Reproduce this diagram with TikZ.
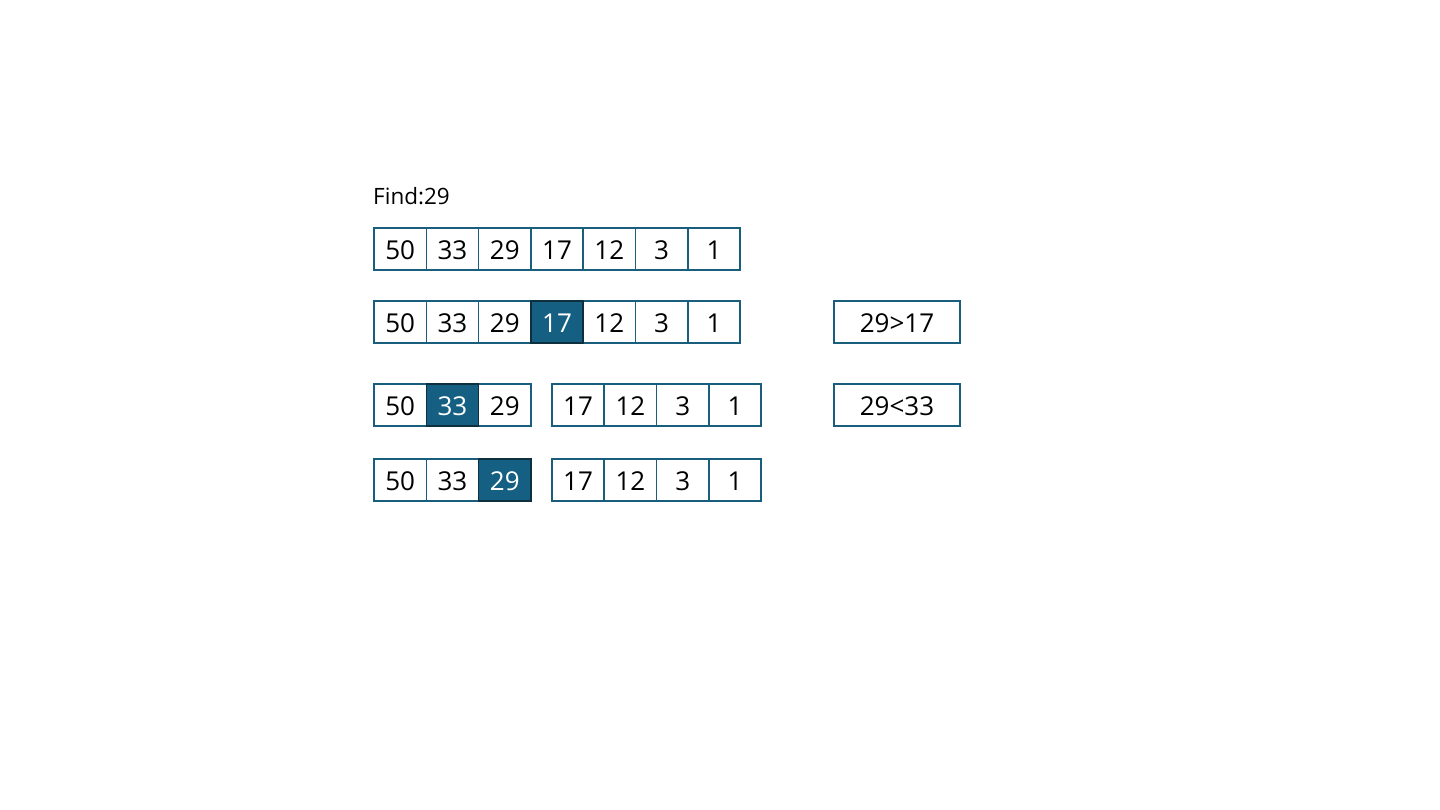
\documentclass[tikz,border=0pt]{standalone}
\usepackage{fontspec}
\setmainfont{Open Sans}
\definecolor{cellblue}{HTML}{156082}
\definecolor{cellborder}{HTML}{1A5E7E}
\definecolor{hlborder}{HTML}{0E2F3E}
\tikzset{
  cell/.style={draw=cellborder, line width=1.6pt, fill=white, minimum width=52.3pt, minimum height=42pt,
    inner sep=0pt, outer sep=0pt, font=\fontsize{26}{30}\selectfont, text=black,
    text height=20.5pt, text depth=0pt},
  hlcell/.style={cell, draw=hlborder, fill=cellblue, text=white},
  cmpbox/.style={cell, minimum width=126pt},
  findlbl/.style={font=\fontsize{22.5}{26}\selectfont, anchor=west, inner sep=0pt}
}
\begin{document}
\begin{tikzpicture}[x=1pt,y=1pt]
\useasboundingbox (0,0) rectangle (1440,810);
\node[findlbl] (find) at (373,614) {Find:29};
% row 1
\foreach \v [count=\i] in {50,33,29,17,12,3,1}
  {\node[cell] (a\i) at ({400.15+(\i-1)*52.3},561) {\v};}
% row 2
\foreach \v [count=\i] in {50,33,29}
  {\node[cell] (b\i) at ({400.15+(\i-1)*52.3},488) {\v};}
\foreach \v [count=\i from 5] in {12,3,1}
  {\node[cell] (b\i) at ({400.15+(\i-1)*52.3},488) {\v};}
\node[hlcell] (b4) at ({400.15+3*52.3},488) {17};
\node[cmpbox] (c1) at (897,488) {29>17};
% row 3
\node[cell] (d1) at (400.15,405) {50};
\node[cell] (d3) at ({400.15+2*52.3},405) {29};
\node[hlcell] (d2) at ({400.15+52.3},405) {33};
\foreach \v [count=\i] in {17,12,3,1}
  {\node[cell] (e\i) at ({578.1+(\i-1)*52.3},405) {\v};}
\node[cmpbox] (c2) at (897,405) {29<33};
% row 4
\node[cell] (f1) at (400.15,330) {50};
\node[cell] (f2) at ({400.15+52.3},330) {33};
\node[hlcell] (f3) at ({400.15+2*52.3},330) {29};
\foreach \v [count=\i] in {17,12,3,1}
  {\node[cell] (g\i) at ({578.1+(\i-1)*52.3},330) {\v};}
\end{tikzpicture}
\end{document}
